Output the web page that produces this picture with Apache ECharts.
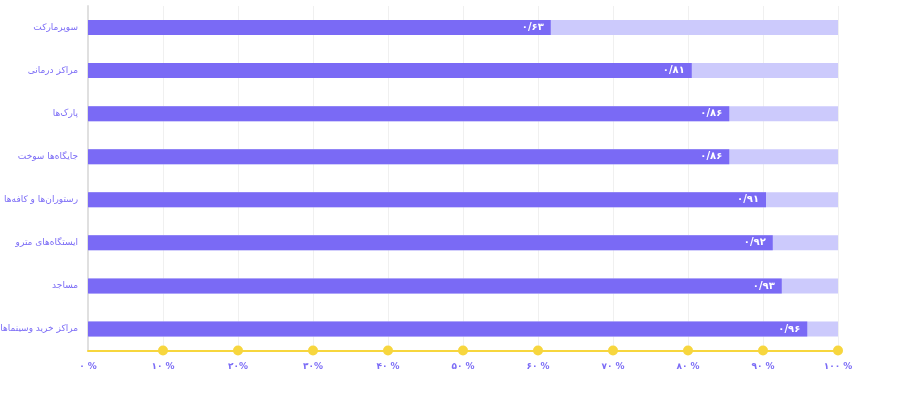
<!DOCTYPE html>
<html><head><meta charset="utf-8">
<script src="https://cdn.jsdelivr.net/npm/echarts@6/dist/echarts.min.js"></script>
<style>html,body{margin:0;padding:0;background:#fff}#c{width:902px;height:395px}</style>
</head><body><div id="c"></div>
<script>
const categories = ['سوپرمارکت','مراکز درمانی','پارک‌ها','جایگاه‌ها سوخت','رستوران‌ها و کافه‌ها','ایستگاه‌های مترو','مساجد','مراکز خرید وسینماها'];
const values = [0.617, 0.805, 0.855, 0.855, 0.904, 0.913, 0.925, 0.959];
const valueLabels = ['۰/۶۳','۰/۸۱','۰/۸۶','۰/۸۶','۰/۹۱','۰/۹۲','۰/۹۳','۰/۹۶'];
const fullValues = [1, 1, 1, 1, 1, 1, 1, 1];
const tickLabels = ['۰ %','۱۰ %','۲۰%','۳۰%','۴۰ %','۵۰ %','۶۰ %','۷۰ %','۸۰ %','۹۰ %','۱۰۰ %'];
const dotPositions = [0.1, 0.2, 0.3, 0.4, 0.5, 0.6, 0.7, 0.8, 0.9, 1.0];

const FONT = 'DejaVu Sans';
const chart = echarts.init(document.getElementById('c'));
chart.setOption({
  animation: false,
  grid: { left: 88, right: 64, top: 6, bottom: 44.5, containLabel: false, outerBoundsMode: 'none' },
  xAxis: {
    type: 'value', min: 0, max: 1, interval: 0.1,
    axisLine: { show: true, lineStyle: { color: '#f7d63e', width: 2 } },
    axisTick: { show: false },
    splitLine: { show: true, lineStyle: { color: '#f0f0f0', width: 1 } },
    axisLabel: {
      color: '#7b6cf6', fontFamily: FONT, fontSize: 9, fontWeight: 'bold', margin: 12,
      formatter: v => tickLabels[Math.round(v * 10)]
    }
  },
  yAxis: [{
    type: 'category', inverse: true, data: categories,
    axisLine: { show: true, lineStyle: { color: '#e0e0e0', width: 2 } },
    axisTick: { show: false },
    axisLabel: { color: '#7b6cf6', fontFamily: FONT, fontSize: 9, margin: 10 }
  }, {
    type: 'value', min: 0, max: 1, show: false
  }],
  series: [{
    type: 'bar', data: fullValues, barWidth: 15, barGap: '-100%', silent: true,
    itemStyle: { color: '#cccafc' }, z: 1
  }, {
    type: 'bar', data: values, barWidth: 15, barGap: '-100%',
    itemStyle: { color: '#7a6af5' }, z: 2,
    label: {
      show: true, position: 'insideRight', color: '#fff', fontFamily: FONT,
      fontSize: 10, fontWeight: 'bold', offset: [-2, 0],
      formatter: p => valueLabels[p.dataIndex]
    }
  }, {
    type: 'scatter', yAxisIndex: 1, clip: false, z: 5,
    data: dotPositions.map(x => [x, 0]),
    symbolSize: 10, itemStyle: { color: '#f7d63e', opacity: 1 }
  }]
});
</script></body></html>
